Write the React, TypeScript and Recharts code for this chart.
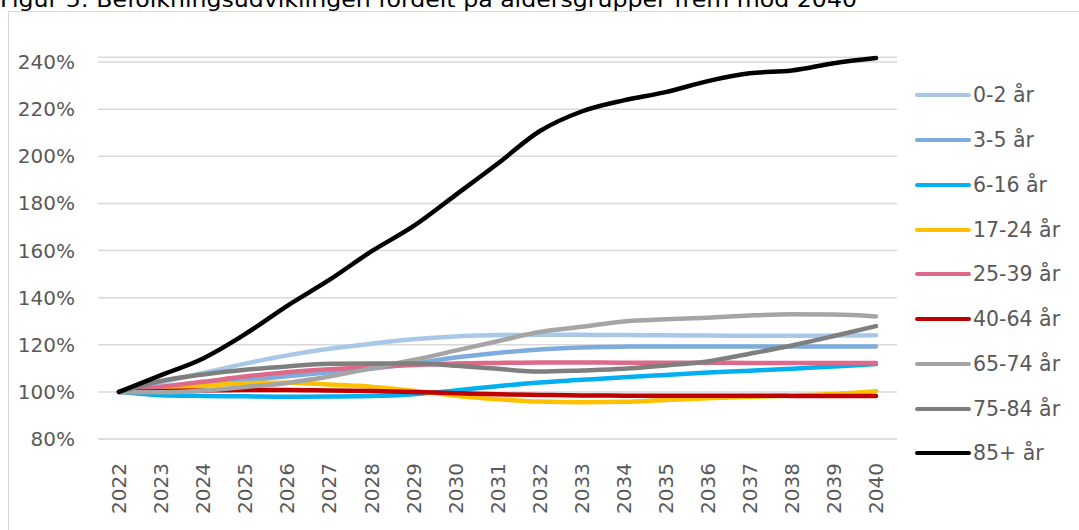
import React from 'react';
import {
  LineChart,
  Line,
  XAxis,
  YAxis,
  CartesianGrid
} from 'recharts';

const years = [
  '2022', '2023', '2024', '2025', '2026', '2027', '2028', '2029', '2030', '2031',
  '2032', '2033', '2034', '2035', '2036', '2037', '2038', '2039', '2040'
];

const age0to2 = [100, 104, 108, 112, 115.5, 118.3, 120.4, 122.3, 123.5, 124.1, 124.2, 124.2, 124.1, 124, 123.9, 123.8, 123.8, 123.9, 124];
const age3to5 = [100, 101.5, 103, 104.8, 106.6, 108.3, 109.8, 112, 114.6, 116.5, 118, 118.8, 119.2, 119.3, 119.3, 119.3, 119.3, 119.3, 119.3];
const age6to16 = [100, 98.6, 98.3, 98.1, 97.9, 98, 98.2, 99, 100.6, 102.4, 104, 105.1, 106.2, 107.2, 108.2, 109, 109.8, 110.8, 111.8];
const age17to24 = [100, 101.3, 102.6, 103.7, 103.9, 103.1, 102.2, 100.5, 98.4, 96.9, 95.9, 95.6, 95.8, 96.6, 97.3, 97.9, 98.4, 99.1, 100.3];
const age25to39 = [100, 102.2, 104.3, 106.5, 108.3, 109.6, 110.6, 111.4, 112, 112.3, 112.5, 112.5, 112.4, 112.4, 112.4, 112.3, 112.3, 112.3, 112.3];
const age40to64 = [100, 100.3, 100.6, 100.8, 100.8, 100.6, 100.4, 100, 99.4, 99, 98.7, 98.5, 98.4, 98.4, 98.4, 98.4, 98.3, 98.3, 98.3];
const age65to74 = [100, 99.8, 100.6, 102.1, 103.8, 106.5, 110, 113.5, 117.5, 121.5, 125.4, 127.6, 129.9, 130.8, 131.5, 132.4, 132.9, 132.8, 132];
const age75to84 = [100, 104.6, 107.4, 109.4, 110.8, 111.9, 112, 112, 111.1, 109.8, 108.6, 109.1, 109.8, 111.2, 112.9, 116.2, 119.7, 123.7, 127.9];
const age85plus = [100, 107.1, 114.2, 124.5, 136.5, 147.5, 159.6, 170.3, 183.5, 196.8, 210.6, 219, 223.7, 227.2, 231.9, 235.2, 236.4, 239.5, 241.7];

const yTicks = [80, 100, 120, 140, 160, 180, 200, 220, 240];

const series = [
  { key: 'a0', name: '0-2 år', values: age0to2, color: '#A9C8E8' },
  { key: 'a3', name: '3-5 år', values: age3to5, color: '#7EADDD' },
  { key: 'a6', name: '6-16 år', values: age6to16, color: '#00B0F0' },
  { key: 'a17', name: '17-24 år', values: age17to24, color: '#FFC000' },
  { key: 'a25', name: '25-39 år', values: age25to39, color: '#DC6A88' },
  { key: 'a40', name: '40-64 år', values: age40to64, color: '#C00000' },
  { key: 'a65', name: '65-74 år', values: age65to74, color: '#A5A5A5' },
  { key: 'a75', name: '75-84 år', values: age75to84, color: '#7F7F7F' },
  { key: 'a85', name: '85+ år', values: age85plus, color: '#000000' },
];

const chartData = years.map((year, i) => {
  const row: any = { year };
  series.forEach(s => { row[s.key] = s.values[i]; });
  return row;
});

const FONT = '"DejaVu Sans", Verdana, sans-serif';
const TEXT = '#595959';

const YearTick = (props: any) => {
  const { x, y, payload } = props;
  return (
    <text
      x={0}
      y={0}
      dy="0.36em"
      transform={`translate(${x},${y + 16}) rotate(-90)`}
      textAnchor="end"
      fill={TEXT}
      fontSize={20}
      fontFamily={FONT}
    >
      {payload.value}
    </text>
  );
};

// legend drawn by hand so it doesn't eat into the plot width
const LegendBox = () => (
  <div style={{ position: 'absolute', left: 915, top: 73, fontFamily: FONT, fontSize: 20.5, color: TEXT }}>
    {series.map(s => (
      <div key={s.key} style={{ display: 'flex', alignItems: 'center', height: 44.75 }}>
        <div style={{ width: 56, height: 4, borderRadius: 2, background: s.color, marginRight: 2 }} />
        <span>{s.name}</span>
      </div>
    ))}
  </div>
);

const App: React.FC = () => {
  return (
    <div style={{ position: 'absolute', left: 0, top: 0, width: 1079, height: 530, overflow: 'hidden', background: '#fff' }}>
      <svg style={{ position: 'absolute', left: 0, top: 0 }} width={1079} height={20}>
        <text
          x={0}
          y={6.5}
          fontFamily={FONT}
          fontSize={22}
          fill="#000"
          textLength={857}
          lengthAdjust="spacingAndGlyphs"
        >
          Figur 5: Befolkningsudviklingen fordelt på aldersgrupper frem mod 2040
        </text>
      </svg>
      <div style={{ position: 'absolute', left: 8, top: 11, width: 1100, height: 560, border: '1.5px solid #d9d9d9' }} />
      <div style={{ position: 'absolute', left: 0, top: 0 }}>
        <LineChart
          width={1079}
          height={530}
          data={chartData}
          margin={{ top: 57.3, right: 182, bottom: 11, left: 0 }}
        >
          <CartesianGrid vertical={false} stroke="#d9d9d9" strokeWidth={1.5} />
          <XAxis
            dataKey="year"
            interval={0}
            padding={{ left: 21, right: 21 }}
            axisLine={{ stroke: '#d9d9d9', strokeWidth: 1.5 }}
            tickLine={false}
            height={80}
            tick={<YearTick />}
          />
          <YAxis
            type="number"
            domain={[80, 242]}
            ticks={yTicks}
            interval={0}
            width={98}
            axisLine={false}
            tickLine={false}
            tickSize={0}
            tickMargin={23}
            tickFormatter={(v: number) => `${v}%`}
            tick={{ fill: TEXT, fontSize: 20, fontFamily: FONT }}
          />
          {series.map(s => (
            <Line
              key={s.key}
              type="monotone"
              dataKey={s.key}
              name={s.name}
              stroke={s.color}
              strokeWidth={4.5}
              strokeLinecap="round"
              dot={false}
              activeDot={false}
              isAnimationActive={false}
            />
          ))}
        </LineChart>
      </div>
      <LegendBox />
    </div>
  );
};

export default App;
